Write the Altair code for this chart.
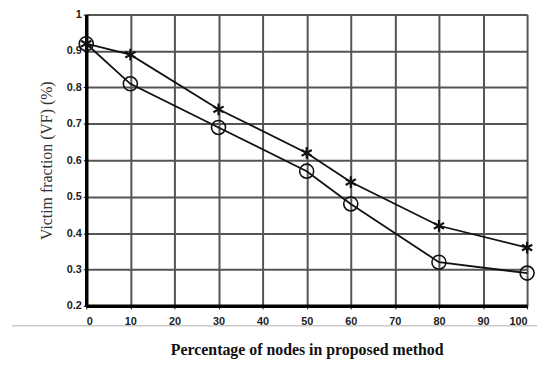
import altair as alt
import pandas as pd

x_vals = [0, 10, 30, 50, 60, 80, 100]
star_vals = [0.92, 0.89, 0.74, 0.62, 0.54, 0.42, 0.36]
circle_vals = [0.92, 0.81, 0.69, 0.57, 0.48, 0.32, 0.29]

df = pd.DataFrame({
    "x": x_vals * 2,
    "y": star_vals + circle_vals,
    "series": ["star"] * len(x_vals) + ["circle"] * len(x_vals),
})

xs = alt.Scale(domain=[0, 100], nice=False)
ys = alt.Scale(domain=[0.2, 1.0], nice=False)

xax = alt.Axis(tickCount=10, title="Percentage of nodes in proposed method",
               grid=True, gridColor="#555", gridWidth=2, domainColor="black", domainWidth=3.5,
               tickColor="black", tickSize=3, labelFont="Liberation Sans", labelFontSize=11,
               labelFontWeight="bold", labelColor="#222", labelPadding=7, labelOverlap=False,
               titleFont="Liberation Serif", titleFontSize=16, titleFontWeight="bold",
               titleColor="#111", titlePadding=15)
yax = alt.Axis(tickCount=8,
               labelExpr="datum.value == 1 ? '1' : format(datum.value, '.1f')",
               title="Victim fraction (VF) (%)", labelOverlap=False,
               grid=True, gridColor="#555", gridWidth=2, domainColor="black", domainWidth=3.5,
               tickColor="black", tickSize=3, labelFont="Liberation Sans", labelFontSize=11,
               labelFontWeight="bold", labelColor="#222", labelPadding=2,
               titleFont="Liberation Serif", titleFontSize=16, titleFontWeight="normal",
               titleColor="#333", titlePadding=12)

base = alt.Chart(df)

lines = base.mark_line(color="#111", strokeWidth=1.8).encode(
    x=alt.X("x:Q", scale=xs, axis=xax),
    y=alt.Y("y:Q", scale=ys, axis=yax),
    detail="series:N",
)

stars = base.transform_filter(alt.datum.series == "star").mark_point(
    shape="M0,-1L0,1M-0.87,-0.5L0.87,0.5M-0.87,0.5L0.87,-0.5",
    size=140, color="#111", strokeWidth=2.2, filled=False, opacity=1,
).encode(x=alt.X("x:Q", scale=xs), y=alt.Y("y:Q", scale=ys))

circles = base.transform_filter(alt.datum.series == "circle").mark_point(
    shape="circle", size=200, color="#111", strokeWidth=1.6, filled=False, opacity=1,
).encode(x=alt.X("x:Q", scale=xs), y=alt.Y("y:Q", scale=ys))

sep = alt.Chart(pd.DataFrame({"k": [0]})).mark_rule(color="#ccc", strokeWidth=1.5, clip=False).encode(
    x=alt.value(-75), x2=alt.value(455), y=alt.value(314)
)

chart = alt.layer(lines, stars, circles, sep).properties(
    width=445, height=294,
    autosize=alt.AutoSizeParams(type="none"),
    padding={"left": 79, "top": 5, "right": 10, "bottom": 56},
).configure_view(stroke="black", strokeWidth=2).configure(background="white")

chart.save("out.html", embed_options={"renderer": "svg", "actions": False})
